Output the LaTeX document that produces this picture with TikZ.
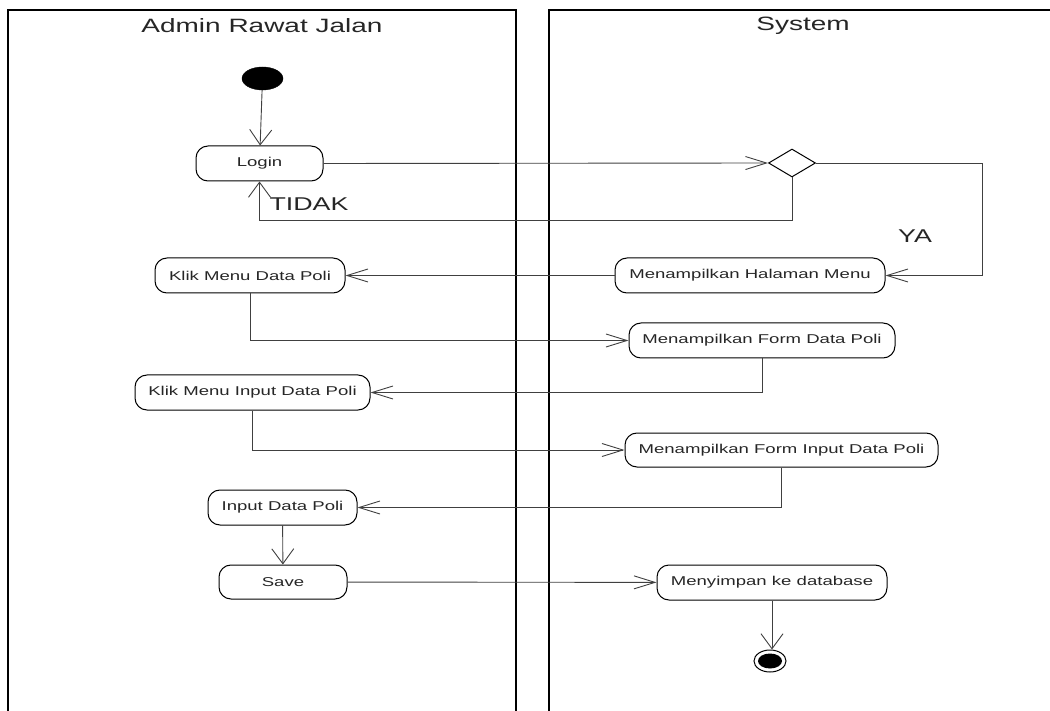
\documentclass[tikz,border=0pt]{standalone}
\usepackage{fontspec}
\setmainfont{Liberation Sans}[FakeStretch=1.45]
\usetikzlibrary{arrows.meta,shapes.geometric,calc}
\begin{document}
\begin{tikzpicture}[x=1pt,y=-1pt,
  lane/.style={line width=1.3pt,draw=black},
  act/.style={draw=black,line width=1pt,rectangle,rounded corners=12pt,minimum height=35pt,inner sep=0pt,
    font=\fontsize{12.8}{15}\selectfont,text=black!85},
  conn/.style={line width=0.9pt,draw=black!75},
  harrow/.style={conn,-{Straight Barb[length=21pt,width=13pt,line width=0.9pt]}},
  varrow/.style={conn,-{Straight Barb[length=15pt,width=22pt,line width=0.9pt]}},
  lbl/.style={font=\fontsize{18.5}{22}\selectfont,text=black!85,inner sep=0pt},
  head/.style={font=\fontsize{19.3}{23}\selectfont,text=black!85,inner sep=0pt}]
\useasboundingbox (0,0) rectangle (1050,711);
% swimlanes
\draw[lane] (8,711) -- (8,10) -- (516,10) -- (516,711);
\draw[lane] (549,711) -- (549,10) -- (1050,10);
\node[head] (h1) at (262,26) {Admin Rawat Jalan};
\node[head] (h2) at (803,26) {System};
% nodes
\node[draw,ellipse,fill=black,minimum width=41pt,minimum height=23pt,inner sep=0pt] (start) at (262.5,78.5) {};
\node[act,minimum width=127pt] (login) at (259.5,163.5) {Login};
\node[draw=black,line width=1pt,diamond,minimum width=47pt,minimum height=28pt,inner sep=0pt] (dec) at (792,163) {};
\node[act,minimum width=270pt] (halmenu) at (750,275.5) {Menampilkan Halaman Menu};
\node[act,minimum width=190pt] (klikpoli) at (250,275.5) {Klik Menu Data Poli};
\node[act,minimum width=266pt] (formpoli) at (762,340.5) {Menampilkan Form Data Poli};
\node[act,minimum width=235pt] (klikinput) at (252.5,392.5) {Klik Menu Input Data Poli};
\node[act,minimum width=313pt,minimum height=34pt] (forminput) at (781.5,450) {Menampilkan Form Input Data Poli};
\node[act,minimum width=149pt] (inputpoli) at (282.5,507.5) {Input Data Poli};
\node[act,minimum width=128pt,minimum height=34pt] (save) at (283,582) {Save};
\node[act,minimum width=230pt] (simpan) at (772,582.5) {Menyimpan ke database};
\node[draw=black,line width=1pt,ellipse,fill=white,minimum width=32pt,minimum height=22pt,inner sep=0pt] (end) at (770,661) {};
\node[ellipse,fill=black,minimum width=24pt,minimum height=15pt,inner sep=0pt] (endin) at (end.center) {};
% labels
\node[lbl] (tidak) at (309,204) {TIDAK};
\node[lbl] (ya) at (915,236) {YA};
% connectors
\draw[varrow] (start) -- (login);
\draw[harrow] (login.east) -- (dec.west);
\draw[varrow] (dec.south) -- ++(0,43) -| (login.south);
\draw[harrow] (dec.east) -| ($(halmenu.east)+(97,0)$) -- (halmenu.east);
\draw[harrow] (halmenu.west) -- (klikpoli.east);
\draw[harrow] (klikpoli.south) |- (formpoli.west);
\draw[harrow] (formpoli.south) |- (klikinput.east);
\draw[harrow] (klikinput.south) |- (forminput.west);
\draw[harrow] (forminput.south) |- (inputpoli.east);
\draw[varrow] (inputpoli) -- (save);
\draw[harrow] (save) -- (simpan);
\draw[varrow] (simpan.south) -- (simpan.south |- end.north);
\end{tikzpicture}
\end{document}
